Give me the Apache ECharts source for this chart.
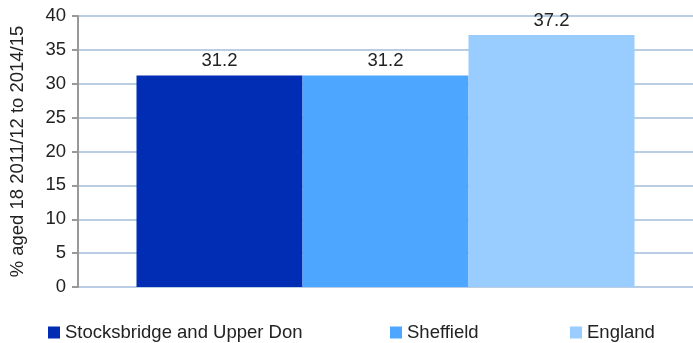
<!DOCTYPE html>
<html><head><meta charset="utf-8">
<script src="https://cdn.jsdelivr.net/npm/echarts@6/dist/echarts.min.js"></script>
<style>html,body{margin:0;padding:0;background:#fff}#c{width:693px;height:343px}</style>
</head><body><div id="c"></div>
<script>
const seriesNames = ["Stocksbridge and Upper Don", "Sheffield", "England"];
const seriesValues = [31.2, 31.2, 37.2];
const seriesColors = ["#002db3", "#4da6ff", "#99ccff"];
const yTicks = {min: 0, max: 40, interval: 5};
const yAxisTitle = "% aged 18 2011/12 to 2014/15";

const font = "'Liberation Sans', Arial, sans-serif";
const chart = echarts.init(document.getElementById('c'), null, {renderer: 'canvas'});
const legendLefts = [43, 385, 565];
chart.setOption({
  animation: false,
  grid: {left: 77, top: 16, width: 621, height: 271, containLabel: false},
  legend: seriesNames.map((n, i) => ({
    data: [n], left: legendLefts[i], top: 318, icon: 'rect', itemWidth: 12, itemHeight: 12,
    itemGap: 0, textStyle: {fontFamily: font, fontSize: 18.5, color: '#222'}
  })),
  xAxis: {type: 'category', data: [''], axisLine: {show: false}, axisTick: {show: false}, axisLabel: {show: false}},
  yAxis: {
    type: 'value', min: yTicks.min, max: yTicks.max, interval: yTicks.interval,
    name: yAxisTitle, nameLocation: 'middle', nameGap: 51,
    nameTextStyle: {fontFamily: font, fontSize: 18.5, color: '#222'},
    axisLine: {show: true, lineStyle: {color: '#999', width: 2}},
    axisTick: {show: true, length: 6, lineStyle: {color: '#999', width: 2}},
    axisLabel: {fontFamily: font, fontSize: 18.5, color: '#222', margin: 12},
    splitLine: {lineStyle: {color: '#b9cde5', width: 2}}
  },
  series: seriesNames.map((n, i) => ({
    name: n, type: 'bar', barWidth: 166, barGap: '0%',
    data: [seriesValues[i]], itemStyle: {color: seriesColors[i]},
    label: {show: true, position: 'top', distance: 5, fontFamily: font, fontSize: 18.5, color: '#222'}
  }))
});
</script></body></html>
